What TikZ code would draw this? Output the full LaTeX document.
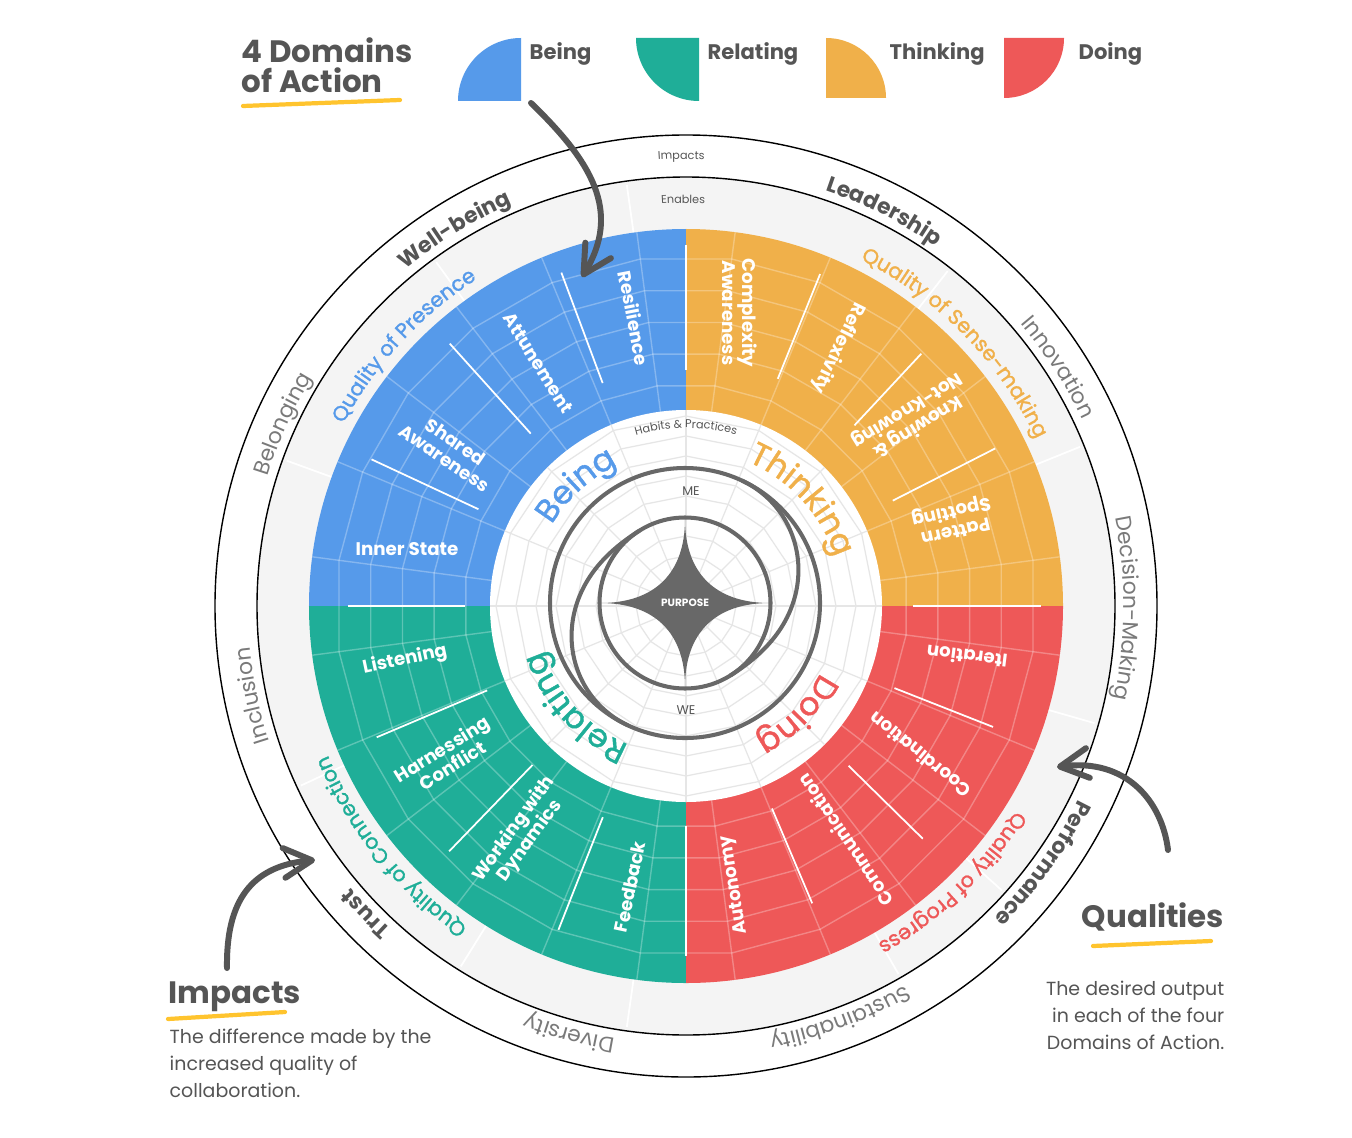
\documentclass[tikz,border=0pt]{standalone}
\usepackage{fontspec}
\setmainfont{Poppins}
\newfontfamily\medfont[FakeBold=1.3]{Poppins}
\usepackage{tikz}
\usetikzlibrary{arrows.meta,decorations.text}
\definecolor{BeingBlue}{HTML}{569AEA}
\definecolor{RelatingGreen}{HTML}{1FAE98}
\definecolor{ThinkingGold}{HTML}{F0B04A}
\definecolor{DoingRed}{HTML}{EE5858}
\definecolor{InkGray}{HTML}{555555}
\definecolor{SoftGray}{HTML}{7A7A7A}
\definecolor{RingGray}{HTML}{F4F4F4}
\definecolor{WebGray}{HTML}{E6E6E6}
\definecolor{MarkYellow}{HTML}{FFC42E}
\definecolor{SpiralGray}{HTML}{686868}
% fonts for the curved labels
\newcommand\ringbold{\fontsize{6.2}{7}\selectfont\bfseries\color{InkGray}}
\newcommand\ringlight{\fontsize{6.2}{7}\selectfont\color{SoftGray}}
\newcommand\ringtiny{\fontsize{3.2}{4}\selectfont\color{InkGray}}
\newcommand\qualBeing{\fontsize{5.9}{7}\selectfont\medfont\color{BeingBlue}}
\newcommand\qualThinking{\fontsize{5.9}{7}\selectfont\medfont\color{ThinkingGold}}
\newcommand\qualRelating{\fontsize{5.9}{7}\selectfont\medfont\color{RelatingGreen}}
\newcommand\qualDoing{\fontsize{5.9}{7}\selectfont\medfont\color{DoingRed}}
\newcommand\domBeing{\fontsize{9.2}{10}\selectfont\medfont\color{BeingBlue}}
\newcommand\domThinking{\fontsize{9.2}{10}\selectfont\medfont\color{ThinkingGold}}
\newcommand\domRelating{\fontsize{9.2}{10}\selectfont\medfont\color{RelatingGreen}}
\newcommand\domDoing{\fontsize{9.2}{10}\selectfont\medfont\color{DoingRed}}
% #1 centre angle, #2 baseline radius, #3 half span, #4 font, #5 text
\newcommand\arclabel[5]{%
  \path[decorate,decoration={text along path,text align=center,text={|#4|#5}}]
    ({#1+#3}:#2) arc[start angle={#1+#3},end angle={#1-#3},radius=#2];}

\begin{document}
\begin{tikzpicture}[>=Latex,
  practice/.style={text=white, font=\fontsize{5.2}{5.6}\selectfont\bfseries, align=center, inner sep=0pt},
  legendlabel/.style={text=InkGray, font=\fontsize{6}{7}\selectfont\bfseries, anchor=west, inner sep=0pt},
  heading/.style={text=InkGray, font=\fontsize{8.8}{8.6}\selectfont\bfseries, align=left, inner sep=0pt},
  blurb/.style={text=InkGray, font=\fontsize{5.4}{7.7}\selectfont, inner sep=0pt},
  hub/.style={text=InkGray, font=\fontsize{3.6}{4}\selectfont, inner sep=0pt},
  divider/.style={white, line width=0.5pt},
  quadweb/.style={white, opacity=0.28, line width=0.4pt},
  ringweb/.style={white, line width=0.5pt},
  discweb/.style={WebGray, line width=0.35pt},
  spiral/.style={SpiralGray, line width=1.15pt},
  marker/.style={MarkYellow, line width=1.2pt, line cap=round},
  handarrow/.style={InkGray, line width=1.7pt, line cap=round, -{Straight Barb[length=8pt,width=8.5pt,round]}}]
\useasboundingbox (-6.86,-5.31) rectangle (6.66,6.06);
\fill[white] (-6.86,-5.31) rectangle (6.66,6.06);

% outer rings
\draw[line width=0.4pt] (0,0) circle[radius=4.71];
\draw[line width=0.4pt, fill=RingGray] (0,0) circle[radius=4.29];
\foreach \a in {22,52,98,126,160,205,238,262,300,318,344}
  \draw[ringweb] (\a:3.7) -- (\a:4.25);

% the four domains
\fill[BeingBlue] (0,0) -- (90:3.77) arc[start angle=90,end angle=180,radius=3.77] -- cycle;
\fill[ThinkingGold] (0,0) -- (0:3.77) arc[start angle=0,end angle=90,radius=3.77] -- cycle;
\fill[RelatingGreen] (0,0) -- (180:3.77) arc[start angle=180,end angle=270,radius=3.77] -- cycle;
\fill[DoingRed] (0,0) -- (270:3.77) arc[start angle=270,end angle=360,radius=3.77] -- cycle;

\begin{scope}
\clip (0,0) circle[radius=3.77];
\foreach \a in {7.5,22.5,...,352.5}
  \draw[quadweb] (\a:1.9) -- (\a:3.8);
\foreach \r in {2.22,2.54,2.86,3.18,3.50}
  \draw[quadweb] plot[samples at={7.5,22.5,...,367.5}] (\x:\r);
\end{scope}

% inner disc
\fill[white] (0,0) circle[radius=1.96];
\foreach \a in {0,22.5,...,337.5}
  \draw[discweb] (\a:0.2) -- (\a:1.96);
\foreach \r in {0.3,0.5,...,1.9}
  \draw[discweb] plot[samples at={0,22.5,...,360}] (\x:\r);

% white strokes between practices
\foreach \a/\ri/\ro in {90/2.36/3.61, 110.5/2.38/3.56, 132/2.32/3.53, 155/2.29/3.47, 180/2.21/3.38,
    68/2.45/3.58, 47/2.47/3.45, 27/2.32/3.47, 0/2.27/3.55,
    -21.5/2.24/3.30, -44.5/2.28/3.32, -67/2.20/3.23, -90/2.20/3.50,
    203/2.16/3.36, 226/2.21/3.41, 248.5/2.27/3.48}
  \draw[divider] (\a:\ri) -- (\a:\ro);

% impacts ring
\arclabel{90.6}{4.47}{20}{\ringtiny}{Impacts}
\arclabel{121.6}{4.38}{30}{\ringbold}{Well-being}
\arclabel{63.3}{4.38}{30}{\ringbold}{Leadership}
\arclabel{32.7}{4.38}{30}{\ringlight}{Innovation}
\arclabel{-0.3}{4.38}{30}{\ringlight}{Decision-Making}
\arclabel{-35.8}{4.38}{30}{\ringbold}{Performance}
\arclabel{-69.5}{4.38}{30}{\ringlight}{Sustainability}
\arclabel{254.7}{4.38}{30}{\ringlight}{Diversity}
\arclabel{223.9}{4.38}{30}{\ringbold}{Trust}
\arclabel{191.7}{4.38}{30}{\ringlight}{Inclusion}
\arclabel{155.7}{4.38}{30}{\ringlight}{Belonging}

% qualities ring
\arclabel{90.4}{4.03}{20}{\ringtiny}{Enables}
\arclabel{137.3}{3.88}{40}{\qualBeing}{Quality of Presence}
\arclabel{44.4}{3.88}{40}{\qualThinking}{Quality of Sense-making}
\arclabel{-46.1}{3.88}{40}{\qualDoing}{Quality of Progress}
\arclabel{219.2}{3.88}{40}{\qualRelating}{Quality of Connection}

% domains
\arclabel{90}{1.78}{40}{\ringtiny}{Habits {\&} Practices}
\arclabel{132.3}{1.57}{50}{\domBeing}{Being}
\arclabel{42.5}{1.57}{50}{\domThinking}{Thinking}
\arclabel{222.4}{1.50}{50}{\domRelating}{Relating}
\arclabel{-44.4}{1.50}{50}{\domDoing}{Doing}

% practices
\node[practice, rotate=-79] (resilience) at (-0.52,2.88) {Resilience};
\node[practice, rotate=-58] (attunement) at (-1.48,2.43) {Attunement};
\node[practice, rotate=-34] (sharedaw) at (-2.36,1.56) {Shared\\Awareness};
\node[practice] (innerstate) at (-2.79,0.57) {Inner State};
\node[practice, rotate=-90] (complexity) at (0.54,2.93) {Complexity\\Awareness};
\node[practice, rotate=-116] (reflexivity) at (1.52,2.58) {Reflexivity};
\node[practice, rotate=-148] (knowing) at (2.26,1.88) {Knowing \&\\Not-Knowing};
\node[practice, rotate=-167] (pattern) at (2.67,0.86) {Pattern\\Spotting};
\node[practice, rotate=173] (iteration) at (2.81,-0.51) {Iteration};
\node[practice, rotate=141] (coordination) at (2.34,-1.49) {Coordination};
\node[practice, rotate=124] (communication) at (1.59,-2.34) {Communication};
\node[practice, rotate=99] (autonomy) at (0.49,-2.79) {Autonomy};
\node[practice, rotate=12] (listening) at (-2.81,-0.54) {Listening};
\node[practice, rotate=32] (harnessing) at (-2.39,-1.51) {Harnessing\\Conflict};
\node[practice, rotate=54] (dynamics) at (-1.64,-2.29) {Working with\\Dynamics};
\node[practice, rotate=78] (feedback) at (-0.56,-2.81) {Feedback};

% me / we spiral and purpose star
\begin{scope}[shift={(-0.01,0.03)}]
\draw[spiral] (0,0) circle[radius=1.35];
\draw[spiral] (0,0) circle[radius=0.855];
\draw[spiral] plot[domain=122:245, samples=60, smooth] (\x:{0.855+0.2475*(1-cos((\x-122)*1.4634))});
\draw[spiral] plot[domain=302:425, samples=60, smooth] (\x:{0.855+0.2475*(1-cos((\x-302)*1.4634))});
\fill[SpiralGray] (0,0.84) .. controls (0,0.3) and (0.3,0) .. (0.85,0)
  .. controls (0.3,0) and (0,-0.3) .. (0,-0.84)
  .. controls (0,-0.3) and (-0.3,0) .. (-0.85,0)
  .. controls (-0.3,0) and (0,0.3) .. (0,0.84) -- cycle;
\node[text=white, font=\fontsize{3}{3.5}\selectfont\bfseries, inner sep=0pt] (purpose) at (0,0) {PURPOSE};
\end{scope}
\node[hub] (me) at (0.05,1.15) {ME};
\node[hub] (we) at (0,-1.04) {WE};

% legend
\node[heading, anchor=west] (domainstitle) at (-4.45,5.41) {4 Domains\\of Action};
\draw[marker] (-4.43,5.00) -- (-2.86,5.06);
\fill[BeingBlue] (-1.65,5.05) -- ++(-0.63,0) arc[start angle=180,end angle=90,radius=0.63] -- cycle;
\node[legendlabel] (legbeing) at (-1.57,5.52) {Being};
\fill[RelatingGreen] (0.13,5.68) -- ++(-0.63,0) arc[start angle=180,end angle=270,radius=0.63] -- cycle;
\node[legendlabel] (legrelating) at (0.21,5.52) {Relating};
\fill[ThinkingGold] (1.40,5.08) -- ++(0.60,0) arc[start angle=0,end angle=90,radius=0.60] -- cycle;
\node[legendlabel] (legthinking) at (2.03,5.52) {Thinking};
\fill[DoingRed] (3.18,5.68) -- ++(0.60,0) arc[start angle=0,end angle=-90,radius=0.60] -- cycle;
\node[legendlabel] (legdoing) at (3.92,5.52) {Doing};

% notes
\node[heading, anchor=west] (impactshead) at (-5.18,-3.91) {Impacts};
\draw[marker] (-5.18,-4.13) -- (-4.01,-4.06);
\node[blurb, anchor=north west, align=left] (impactsnote) at (-5.17,-4.22) {The difference made by the\\increased quality of\\collaboration.};
\node[heading] (qualhead) at (4.67,-3.11) {Qualities};
\draw[marker] (4.07,-3.40) -- (5.25,-3.35);
\node[blurb, anchor=north east, align=right] (qualnote) at (5.39,-3.74) {The desired output\\in each of the four\\Domains of Action.};

% hand drawn arrows
\coordinate (legendtail) at (-1.55,5.03);
\coordinate (legendtip) at (-1.04,3.29);
\coordinate (impactstail) at (-4.59,-3.62);
\coordinate (impactstip) at (-3.71,-2.54);
\coordinate (qualtail) at (4.82,-2.44);
\coordinate (qualtip) at (3.71,-1.61);
\draw[handarrow] (legendtail) .. controls (-0.95,4.45) and (-0.64,3.95) .. (legendtip);
\draw[handarrow] (impactstail) .. controls (-4.60,-2.95) and (-4.35,-2.60) .. (impactstip);
\draw[handarrow] (qualtail) .. controls (4.76,-1.95) and (4.40,-1.52) .. (qualtip);
\end{tikzpicture}
\end{document}
